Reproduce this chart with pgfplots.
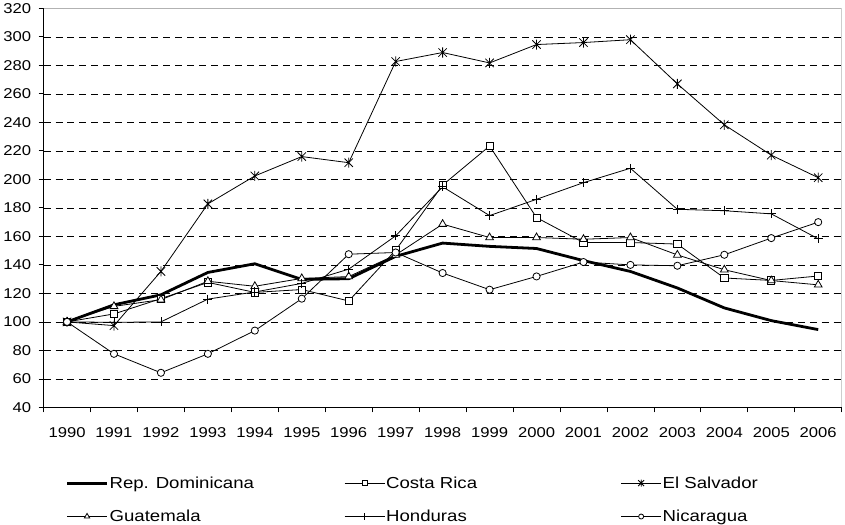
\documentclass[border=0pt]{standalone}
\usepackage{fontspec}
\setmainfont{Liberation Sans}[FakeStretch=1.17]
\usepackage{pgfplots}
\pgfplotsset{compat=1.18}

% X with a vertical bar, as in the El Salvador series
\pgfdeclareplotmark{xbar}{%
  \pgfpathmoveto{\pgfqpoint{-\pgfplotmarksize}{-\pgfplotmarksize}}%
  \pgfpathlineto{\pgfqpoint{\pgfplotmarksize}{\pgfplotmarksize}}%
  \pgfpathmoveto{\pgfqpoint{-\pgfplotmarksize}{\pgfplotmarksize}}%
  \pgfpathlineto{\pgfqpoint{\pgfplotmarksize}{-\pgfplotmarksize}}%
  \pgfpathmoveto{\pgfqpoint{0pt}{-1.2\pgfplotmarksize}}%
  \pgfpathlineto{\pgfqpoint{0pt}{1.2\pgfplotmarksize}}%
  \pgfusepathqstroke}

\newcommand{\lent}[1]{\makebox[234bp][l]{#1}}

\begin{document}
\begin{tikzpicture}
\begin{axis}[
  scale only axis, width=800bp, height=400bp,
  xmin=-0.5, xmax=16.5, ymin=40, ymax=320,
  axis x line*=bottom, axis y line*=left,
  axis line style={black, line width=1bp},
  ytick={40,60,...,320},
  yticklabel style={xshift=-4bp},
  xtick={-0.5,0.5,...,16.5}, xticklabels={},
  extra x ticks={0,1,...,16},
  extra x tick labels={1990,1991,1992,1993,1994,1995,1996,1997,1998,1999,2000,2001,2002,2003,2004,2005,2006},
  extra x tick style={major tick length=0pt, xticklabel style={yshift=-17bp}},
  tick align=outside, major tick length=5bp,
  tick style={black, line width=0.8bp},
  ymajorgrids, grid style={black, line width=0.6bp, dash pattern=on 7bp off 5bp},
  /pgf/number format/assume math mode=true,
  ticklabel style={font=\fontsize{14.3}{17}\selectfont},
  legend columns=3,
  legend style={at={(0.0275,-0.17)}, anchor=north west, draw=none, fill=none,
    font=\fontsize{16}{19}\selectfont, row sep=18bp, inner sep=0pt,
    nodes={inner sep=1.2bp}},
  legend cell align=left,
  legend image code/.code={\draw[mark repeat=2,mark phase=2,#1,every mark/.append style={scale=0.7}] plot coordinates {(0bp,0bp) (20bp,0bp) (40bp,0bp)};},
  every axis plot/.append style={black, line width=0.8bp,
    mark options={solid, fill=white, line width=0.8bp}},
]
\addplot[line width=2.8bp, mark=none] coordinates {
(0,100)(1,112)(2,119)(3,134.7)(4,140.8)(5,129.8)(6,130.3)(7,146)(8,155.3)(9,153)(10,151.5)(11,143)(12,135.4)(13,123.8)(14,109.8)(15,100.9)(16,94.6)};
\addlegendentry{\lent{Rep. Dominicana}}
\addplot[mark=square*, mark size=3.6bp] coordinates {
(0,100)(1,105.6)(2,116.3)(3,127.7)(4,120.7)(5,122.7)(6,114.7)(7,150.3)(8,196)(9,223.4)(10,173.2)(11,155.7)(12,155.7)(13,154.6)(14,130.8)(15,129.1)(16,132.2)};
\addlegendentry{\lent{Costa Rica}}
\addplot[mark=xbar, mark size=4.2bp] coordinates {
(0,100)(1,97.4)(2,135.4)(3,182.8)(4,202.4)(5,216)(6,211.7)(7,282.7)(8,289)(9,281.7)(10,294.6)(11,296)(12,298)(13,267)(14,238.3)(15,217)(16,201.2)};
\addlegendentry{El Salvador}
\addplot[mark=triangle*, mark size=4.5bp] coordinates {
(0,100)(1,110.9)(2,115.6)(3,128.5)(4,125)(5,130.5)(6,131.8)(7,147)(8,168.6)(9,159.2)(10,159.2)(11,158)(12,159.2)(13,147)(14,136.6)(15,129)(16,126)};
\addlegendentry{\lent{Guatemala}}
\addplot[mark=+, mark size=4.5bp] coordinates {
(0,100)(1,99.7)(2,100)(3,116)(4,121)(5,127)(6,137)(7,160.4)(8,194.8)(9,174.6)(10,186)(11,197.7)(12,207.8)(13,179)(14,178)(15,175.8)(16,158.3)};
\addlegendentry{\lent{Honduras}}
\addplot[mark=*, mark size=3.6bp] coordinates {
(0,100)(1,77.6)(2,64.3)(3,77.6)(4,93.9)(5,116.3)(6,147.5)(7,148.7)(8,134.3)(9,122.6)(10,131.9)(11,142)(12,140)(13,139.4)(14,147.1)(15,158.8)(16,170)};
\addlegendentry{Nicaragua}
\draw[gray!60, line width=1bp] (rel axis cs:0,1) -- (rel axis cs:1,1) -- (rel axis cs:1,0);
\end{axis}
\useasboundingbox (-43bp,-117bp) rectangle (802bp,408bp);
\end{tikzpicture}
\end{document}
